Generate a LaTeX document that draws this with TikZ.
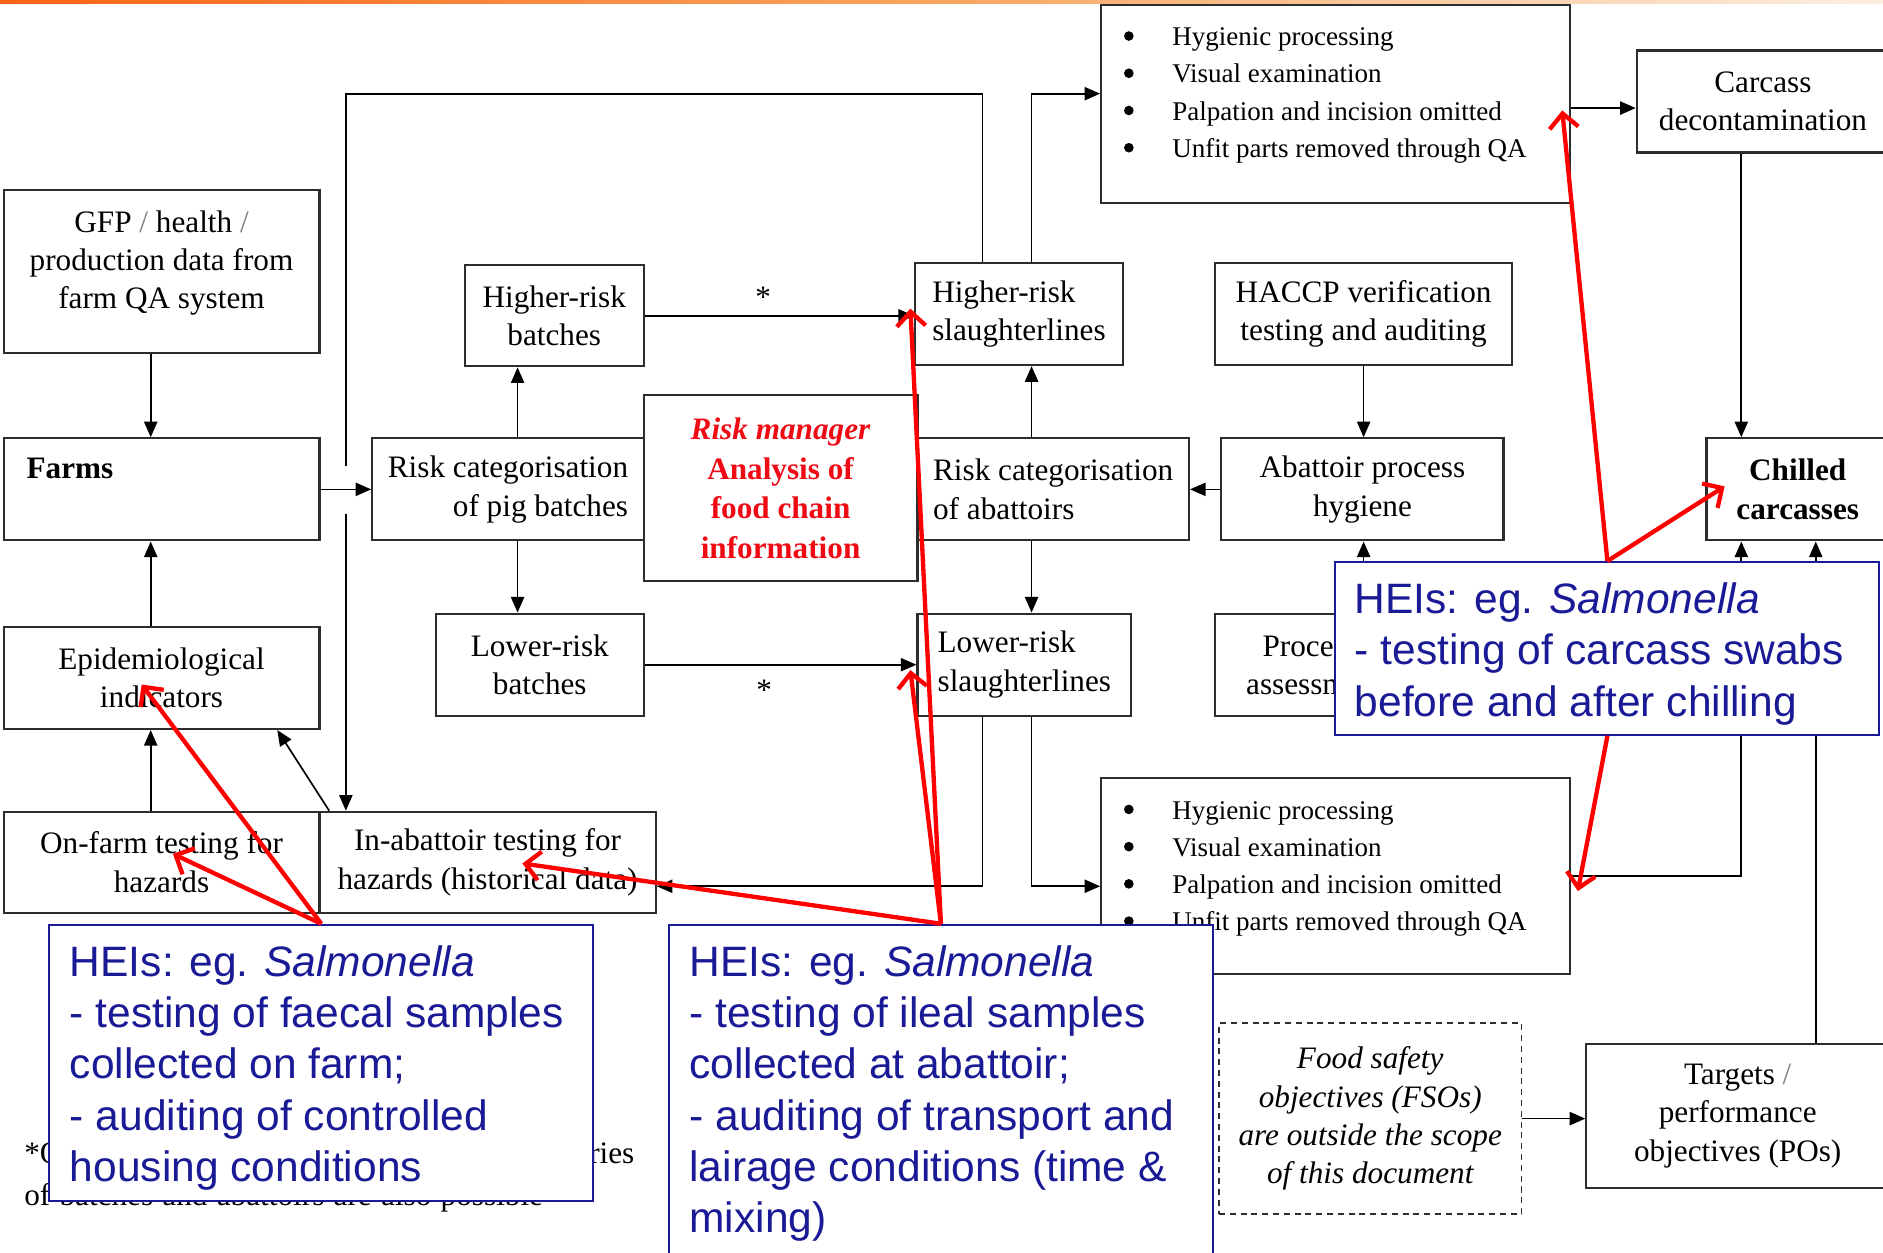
\documentclass[tikz,border=0pt]{standalone}
\usepackage{fontspec}
\setmainfont{Liberation Serif}
\newfontfamily\heisans{Liberation Sans}
\usetikzlibrary{arrows.meta}
\definecolor{heiblue}{RGB}{26,26,150}
\definecolor{boxgray}{RGB}{45,45,45}
\definecolor{rmred}{RGB}{240,10,20}
\definecolor{arrred}{RGB}{255,0,0}
\definecolor{orA}{RGB}{250,100,20}
\definecolor{orB}{RGB}{248,165,95}
\definecolor{orC}{RGB}{252,238,225}
\newcommand{\mybox}[7]{%
  \node[diabox,#6,minimum width={#4-#2},minimum height={#5-#3}] (#1) at ({(#2+#4)/2},{(#3+#5)/2}) {#7};}
\begin{document}
\begin{tikzpicture}[x=1pt,y=-1pt,
 diabox/.style={draw=boxgray,line width=1.8pt,rectangle,inner sep=0pt,align=center,font=\fontsize{26}{32}\selectfont},
 lbl/.style={inner sep=0pt,font=\fontsize{26}{32}\selectfont},
 bul/.style={inner sep=0pt,anchor=base west,font=\fontsize{22.5}{31}\selectfont},
 dot/.style={circle,fill=black,inner sep=0pt,minimum size=8pt},
 conn/.style={draw=black,line width=1.4pt,-{Triangle[length=13pt,width=11pt]}},
 wire/.style={draw=black,line width=1.4pt},
 hei/.style={draw=heiblue,line width=1.6pt,fill=white,rectangle,inner sep=0pt},
 heitxt/.style={text=heiblue,inner sep=0pt,anchor=north west,align=left,font=\heisans\fontsize{35.4}{42.75}\selectfont},
 redarr/.style={draw=arrred,line width=3.6pt,-{Straight Barb[length=12pt,width=24pt]}}
]
\useasboundingbox (0,0) rectangle (1568,1043);
\clip (0,0) rectangle (1568,1043);
\fill[white] (0,0) rectangle (1568,1043);
\shade[left color=orA, right color=orC, middle color=orB] (0,0) rectangle (1568,3);

% footnote (mostly hidden)
\node[lbl,anchor=base west] (fn1) at (20,969) {\makebox[508pt][s]{*Other combinations between the risk categories}};
\node[lbl,anchor=base west] (fn2) at (20,1004) {\makebox[432pt][s]{of batches and abattoirs are also possible}};

% boxes
\mybox{gfp}{3}{158}{266}{294}{}{}
\node[lbl,align=center] (gfptxt) at (134.5,219) {GFP {\color{gray}/} health {\color{gray}/}\\production data from\\farm QA system};
\mybox{farms}{3}{365}{266}{450}{}{}
\node[lbl,anchor=west,font=\bfseries\fontsize{26}{32}\selectfont] (farmslbl) at (22,390) {Farms};
\mybox{epi}{3}{522}{266}{607}{}{Epidemiological\\indicators}
\mybox{onfarm}{3}{676}{266}{760}{}{On-farm testing for\\hazards}
\mybox{inab}{266}{676}{546}{760}{}{In-abattoir testing for\\hazards (historical data)}
\mybox{hrb}{387}{221}{536}{305}{}{Higher-risk\\batches}
\mybox{rcp}{310}{365}{536}{450}{align=right}{Risk categorisation\\of pig batches}
\mybox{lrb}{363}{511}{536}{596}{}{Lower-risk\\batches}
\mybox{rm}{536}{329}{764}{484}{text=rmred,font=\bfseries\fontsize{26}{33}\selectfont}{\textit{Risk manager}\\Analysis of\\food chain\\information}
\mybox{hrs}{762}{219}{935}{304}{align=left}{Higher-risk\\slaughterlines}
\mybox{rca}{764}{365}{990}{450}{align=left}{Risk categorisation\\of abattoirs}
\mybox{lrs}{764}{511}{942}{596}{align=left}{Lower-risk\\slaughterlines}
\mybox{topb}{917}{4}{1307}{169}{}{}
\mybox{carc}{1363}{42}{1573}{127}{}{Carcass\\decontamination}
\mybox{haccp}{1012}{219}{1259}{304}{}{HACCP verification\\testing and auditing}
\mybox{aph}{1017}{365}{1252}{450}{}{Abattoir process\\hygiene}
\mybox{chill}{1421}{365}{1573}{450}{font=\bfseries\fontsize{26}{33}\selectfont}{Chilled\\carcasses}
\mybox{proc}{1012}{511}{1259}{596}{}{Process hygiene\\assessment criteria}
\mybox{botb}{917}{648}{1307}{811}{}{}
\mybox{fso}{1015}{852}{1267}{1011}{dashed,dash pattern=on 5pt off 4pt,line width=1.4pt,font=\itshape\fontsize{26}{32}\selectfont}{Food safety\\objectives (FSOs)\\are outside the scope\\of this document}
\mybox{targ}{1321}{869}{1573}{989}{}{Targets {\color{gray}/}\\performance\\objectives (POs)}

% bullet lists
\foreach \t [count=\i] in {Hygienic processing, Visual examination, Palpation and incision omitted, Unfit parts removed through QA}{
  \node[dot] (tbd\i) at (940,{-1+31*\i}) {};
  \node[bul] (tbt\i) at (976,{7+31*\i}) {\t};
  \node[dot] (bbd\i) at (940,{643+31*\i}) {};
  \node[bul] (bbt\i) at (976,{651+31*\i}) {\t};
}

% connectors
\draw[conn] ([xshift=-9pt]gfp.south) -- ([xshift=-9pt]farms.north);
\draw[conn] ([xshift=-9pt]epi.north) -- ([xshift=-9pt]farms.south);
\draw[conn] ([xshift=-9pt]onfarm.north) -- ([xshift=-9pt]epi.south);
\draw[conn] ([xshift=9pt]inab.north west) -- ([xshift=-36pt]epi.south east);
\draw[conn] (farms.east) -- (rcp.west);
\coordinate (loopTL) at (288,78);
\coordinate (hopA) at (288,388);
\coordinate (hopB) at (288,428);
\draw[wire] ([xshift=-30.5pt]hrs.north) |- (loopTL) -- (hopA);
\draw[conn] (hopB) -- (hopB |- inab.north);
\draw[conn] ([xshift=10.5pt]hrs.north) |- ([yshift=8.5pt]topb.west);
\draw[conn] ([xshift=6pt]lrs.south) |- ([yshift=-8.5pt]botb.west);
\draw[conn] ([xshift=-35pt]lrs.south) |- ([yshift=-20pt]inab.east);
\draw[conn] (hrb.east) -- (hrb.east -| hrs.west) node[pos=0.44,above=6pt,lbl] (star1) {*};
\draw[conn] (lrb.east) -- (lrb.east -| lrs.west) node[pos=0.44,below=12pt,lbl] (star2) {*};
\coordinate (rcpx) at ([xshift=8pt]rcp.north);
\coordinate (rcpy) at ([xshift=8pt]rcp.south);
\draw[conn] (rcpx) -- (rcpx |- hrb.south);
\draw[conn] (rcpy) -- (rcpy |- lrb.north);
\coordinate (rcax) at ([xshift=-18pt]rca.north);
\coordinate (rcay) at ([xshift=-18pt]rca.south);
\draw[conn] (rcax) -- (rcax |- hrs.south);
\draw[conn] (rcay) -- (rcay |- lrs.north);
\draw[conn] (haccp.south) -- (haccp.south |- aph.north);
\draw[conn] (aph.west) -- (aph.west -| rca.east);
\draw[conn] (proc.north) -- (proc.north |- aph.south);
\coordinate (topbx) at ([yshift=-3.5pt]topb.east);
\draw[conn] (topbx) -- (topbx -| carc.west);
\coordinate (carcx) at ([xshift=-18pt]carc.south);
\draw[conn] (carcx) -- (carcx |- chill.north);
\draw[conn] (botb.east) -| ([xshift=-47pt]chill.south);
\coordinate (targx) at ([xshift=65pt]targ.north);
\draw[conn] (targx) -- (targx |- chill.south);
\draw[conn] (fso.east) -- (fso.east -| targ.west);

% HEI boxes
\node[hei,minimum width=453pt,minimum height=230pt] (heiA) at (267.5,885) {};
\node[hei,minimum width=453pt,minimum height=300pt] (heiB) at (783.5,920) {};
\node[hei,minimum width=453pt,minimum height=144pt] (heiC) at (1338.5,540) {};
\node[heitxt] (heiAt) at (58,787) {HEIs: eg. \textit{Salmonella}\\- testing of faecal samples\\collected on farm;\\- auditing of controlled\\housing conditions};
\node[heitxt] (heiBt) at (574,787) {HEIs: eg. \textit{Salmonella}\\- testing of ileal samples\\collected at abattoir;\\- auditing of transport and\\lairage conditions (time \&\\mixing)};
\node[heitxt] (heiCt) at (1128,485) {HEIs: eg. \textit{Salmonella}\\- testing of carcass swabs\\before and after chilling};

% red arrows
\draw[redarr] (heiA.north) -- ([xshift=-16.5pt,yshift=-5.5pt]epi.center);
\draw[redarr] (heiA.north) -- ([xshift=9.5pt,yshift=7pt]onfarm.center);
\draw[redarr] (heiB.north) -- ([xshift=-3pt,yshift=4.5pt]hrs.west);
\draw[redarr] (heiB.north) -- ([xshift=-5pt,yshift=-4.5pt]lrs.west);
\draw[redarr] (heiB.north) -- ([xshift=29pt,yshift=-1pt]inab.center);
\draw[redarr] (heiC.north) -- ([xshift=-7pt,yshift=-5.5pt]topb.east);
\draw[redarr] (heiC.north) -- ([xshift=16pt,yshift=2.5pt]chill.west);
\draw[redarr] (heiC.south) -- ([xshift=6pt,yshift=-12.5pt]botb.east);
\end{tikzpicture}
\end{document}
